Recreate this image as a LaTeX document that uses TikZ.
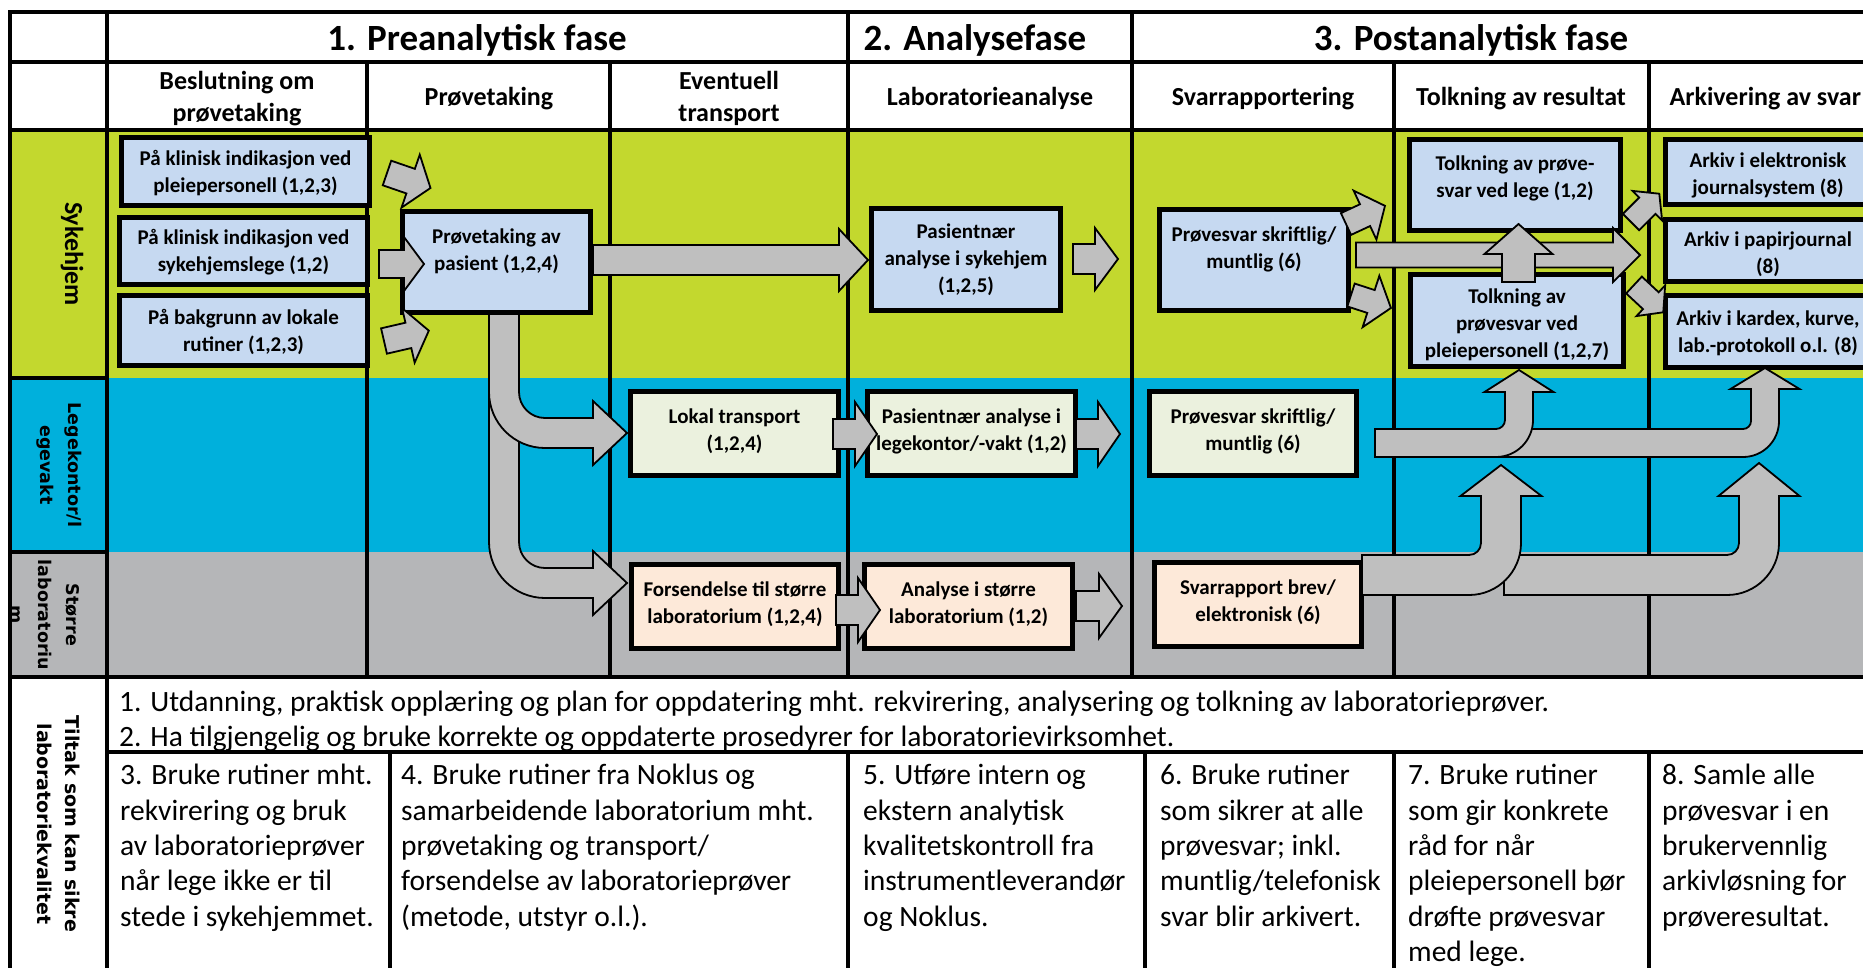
\documentclass[tikz,border=0pt]{standalone}
\usepackage{fontspec}
\setmainfont{Carlito}
\newfontfamily\verdfont{DejaVu Sans}

\definecolor{lanegreen}{RGB}{195,216,46}
\definecolor{lanecyan}{RGB}{0,176,220}
\definecolor{lanegray}{RGB}{181,182,184}
\definecolor{boxblue}{RGB}{198,217,241}
\definecolor{boxgreen}{RGB}{235,241,222}
\definecolor{boxpeach}{RGB}{253,233,217}
\definecolor{arrowgray}{RGB}{191,191,191}

\tikzset{
  grid line/.style={line width=3.5pt, line cap=rect},
  flowbox/.style={draw, line width=4.5pt, align=center, inner sep=1pt, text depth=-2pt,
    font=\fontsize{21}{27}\selectfont\bfseries},
  bluebox/.style={flowbox, fill=boxblue},
  greenbox/.style={flowbox, fill=boxgreen, text depth=7pt},
  peachbox/.style={flowbox, fill=boxpeach, text depth=7pt},
  blockarrow/.style={draw=black, line width=1.8pt, fill=arrowgray, line join=miter},
  phasehead/.style={font=\fontsize{37}{44}\selectfont\bfseries},
  colhead/.style={align=center, font=\fontsize{26}{31.5}\selectfont\bfseries},
  lanelabel/.style={rotate=-90, align=center,
    font=\verdfont\fontsize{17.5}{28}\selectfont\bfseries},
  tiltak/.style={anchor=north west, align=left, inner sep=0pt,
    font=\fontsize{29.5}{35.3}\selectfont},
}

% straight block arrow: tail, angle, length, half shaft, half head, head length
\newcommand{\barrow}[6]{%
  \draw[blockarrow, shift={#1}, rotate=#2]
    (0,-#4) -- ({#3-#6},-#4) -- ({#3-#6},-#5) -- (#3,0)
    -- ({#3-#6},#5) -- ({#3-#6},#4) -- (0,#4) -- cycle;}

% block arrow going down, then right
\newcommand{\bendright}[8]{%
  \pgfmathsetmacro\bxl{#1-#4}\pgfmathsetmacro\bxr{#1+#4}%
  \pgfmathsetmacro\byt{#3-#4}\pgfmathsetmacro\byb{#3+#4}%
  \pgfmathsetmacro\bro{#5+2*#4}%
  \draw[blockarrow] (\bxl,#2) -- (\bxl,{\byb-\bro})
    .. controls (\bxl,{\byb-0.448*\bro}) and ({\bxl+0.448*\bro},\byb) .. ({\bxl+\bro},\byb)
    -- (#6,\byb) -- (#6,{#3+#7}) -- (#8,#3) -- (#6,{#3-#7}) -- (#6,\byt)
    -- ({\bxr+#5},\byt) .. controls ({\bxr+0.448*#5},\byt) and (\bxr,{\byt-0.448*#5}) .. (\bxr,{\byt-#5})
    -- (\bxr,#2) -- cycle;}

% block arrow going right, then up
\newcommand{\bendup}[8]{%
  \pgfmathsetmacro\bxl{#4-#3}\pgfmathsetmacro\bxr{#4+#3}%
  \pgfmathsetmacro\byt{#2-#3}\pgfmathsetmacro\byb{#2+#3}%
  \pgfmathsetmacro\bro{#5+2*#3}%
  \draw[blockarrow] (#1,\byt) -- ({\bxl-#5},\byt)
    .. controls ({\bxl-0.448*#5},\byt) and (\bxl,{\byt-0.448*#5}) .. (\bxl,{\byt-#5})
    -- (\bxl,#6) -- ({#4-#7},#6) -- (#4,#8) -- ({#4+#7},#6) -- (\bxr,#6)
    -- (\bxr,{\byb-\bro}) .. controls (\bxr,{\byb-0.448*\bro}) and ({\bxr-0.448*\bro},\byb) .. ({\bxr-\bro},\byb)
    -- (#1,\byb) -- cycle;}

\begin{document}
\begin{tikzpicture}[x=1pt,y=-1pt]
\useasboundingbox (0,0) rectangle (1863,967);
\clip (0,0) rectangle (1863,967);

% lanes
\fill[lanegreen] (10,130) rectangle (1870,378);
\fill[lanecyan] (10,378) rectangle (1870,552);
\fill[lanegray] (10,552) rectangle (1870,677);

% table lines
\draw[grid line] (10,12) -- (1870,12);
\draw[grid line] (10,62) -- (1870,62);
\draw[grid line] (10,130) -- (1870,130);
\draw[grid line] (10,378) -- (107,378);
\draw[grid line] (10,552) -- (107,552);
\draw[grid line] (10,677) -- (1870,677);
\draw[grid line] (107,752) -- (1870,752);
\draw[grid line] (10,12) -- (10,975);
\draw[grid line] (107,12) -- (107,975);
\foreach \x in {848,1132} \draw[grid line] (\x,12) -- (\x,677);
\foreach \x in {367,610,1394,1649} \draw[grid line] (\x,62) -- (\x,677);
\foreach \x in {390,848,1145,1394,1649} \draw[grid line] (\x,752) -- (\x,975);

% headers
\node[phasehead] (ph1) at (477,40.5) {1. Preanalytisk fase};
\node[phasehead] (ph2) at (975,40.5) {2. Analysefase};
\node[phasehead] (ph3) at (1471,40.5) {3. Postanalytisk fase};
\node[colhead] (ch1) at (237,98.5) {Beslutning om\\prøvetaking};
\node[colhead] (ch2) at (489,98.5) {Prøvetaking};
\node[colhead] (ch3) at (729,98.5) {Eventuell\\transport};
\node[colhead] (ch4) at (990,98.5) {Laboratorieanalyse};
\node[colhead] (ch5) at (1263,98.5) {Svarrapportering};
\node[colhead] (ch6) at (1521,98.5) {Tolkning av resultat};
\node[colhead, anchor=west] (ch7) at (1666,98.5) {Arkivering av svar};

% lane labels
\node[rotate=-90, font=\fontsize{26}{31}\selectfont\bfseries] (lsyk) at (72,254) {Sykehjem};
\node[lanelabel] (lleg) at (59,465) {Legekontor/l\\egevakt};
\node[lanelabel] (lsto) at (45,615) {Større\\laboratoriu\\m};
\node[lanelabel, font=\verdfont\fontsize{19}{28}\selectfont\bfseries] (ltil) at (58.5,824)
  {Tiltak som kan sikre\\laboratoriekvalitet};

% from the sample down to transport
\bendright{504}{314}{583}{15}{26}{593}{32}{627}
\bendright{504}{314}{433}{15}{26}{593}{32}{627}

% boxes
\node[bluebox, minimum width=248pt, minimum height=68pt] (bes1) at (245.5,171.5) {På klinisk indikasjon ved\\pleiepersonell (1,2,3)};
\node[bluebox, minimum width=248pt, minimum height=67pt, text height=46.5pt, text depth=5pt] (bes2) at (243.5,251) {På klinisk indikasjon ved\\sykehjemslege (1,2)};
\node[bluebox, minimum width=248pt, minimum height=70pt, text height=46.5pt, text depth=5pt] (bes3) at (243.5,330.5) {På bakgrunn av lokale\\rutiner (1,2,3)};
\node[bluebox, minimum width=188pt, minimum height=101pt, text depth=25pt] (pt) at (496.5,262) {Prøvetaking av\\pasient (1,2,4)};
\node[bluebox, minimum width=189pt, minimum height=102pt, text depth=2pt] (pns) at (966,259.5) {Pasientnær\\analyse i sykehjem\\(1,2,5)};
\node[bluebox, minimum width=189pt, minimum height=101pt, text depth=25pt] (svs) at (1254,260) {Prøvesvar skriftlig/\\muntlig (6)};
\node[bluebox, minimum width=211pt, minimum height=91pt, text depth=16pt] (tol) at (1515,185) {Tolkning av prøve-\\svar ved lege (1,2)};
\node[bluebox, minimum width=213pt, minimum height=92pt, text height=78.5pt, text depth=5pt] (tolp) at (1517,320.5) {Tolkning av\\prøvesvar ved\\pleiepersonell (1,2,7)};
\node[bluebox, minimum width=205pt, minimum height=65pt, text height=49pt, text depth=5pt] (ark1) at (1768,172) {Arkiv i elektronisk\\journalsystem (8)};
\node[bluebox, minimum width=205pt, minimum height=62pt, text height=51.5pt, text depth=5pt] (ark2) at (1768,250.5) {Arkiv i papirjournal\\(8)};
\node[bluebox, minimum width=205pt, minimum height=72pt, text height=46.5pt, text depth=5pt] (ark3) at (1768,331.5) {Arkiv i kardex, kurve,\\lab.-protokoll o.l. (8)};
\node[greenbox, minimum width=208pt, minimum height=84pt] (lok) at (734.5,433.5) {Lokal transport\\(1,2,4)};
\node[greenbox, minimum width=208pt, minimum height=84pt] (pnl) at (971.5,433.5) {Pasientnær analyse i\\legekontor/-vakt (1,2)};
\node[greenbox, minimum width=207pt, minimum height=84pt] (svl) at (1253,433.5) {Prøvesvar skriftlig/\\muntlig (6)};
\node[peachbox, minimum width=207pt, minimum height=84pt] (fors) at (735,606.5) {Forsendelse til større\\laboratorium (1,2,4)};
\node[peachbox, minimum width=208pt, minimum height=84pt] (anl) at (968.5,606.5) {Analyse i større\\laboratorium (1,2)};
\node[peachbox, minimum width=207pt, minimum height=84pt] (svr) at (1258,604.5) {Svarrapport brev/\\elektronisk (6)};

% straight arrows
\barrow{(387,173)}{-19}{46}{13}{28}{21}
\barrow{(379,264)}{0}{45}{14}{27}{20}
\barrow{(384,341)}{13}{46}{13}{28}{21}
\barrow{(593,260)}{0}{275}{15}{31}{29}
\barrow{(1073,259)}{0}{45}{15}{31}{23}
\barrow{(1346,224)}{25}{43}{12}{27}{22}
\barrow{(1351,295)}{-18}{42}{12}{27}{21}
\barrow{(1356,255)}{0}{284}{12.5}{27}{27}
\barrow{(1518.5,282)}{90}{58}{16.5}{34}{30}
\barrow{(1631,222)}{45}{40}{11.5}{21}{17}
\barrow{(1634,285)}{-43}{40}{11.5}{21}{17}
\barrow{(833,434)}{0}{44}{15}{32}{22}
\barrow{(1076,434)}{0}{44}{15}{32}{22}
\barrow{(836,610)}{0}{44}{15}{32}{22}
\barrow{(1076,606)}{0}{46}{15}{32}{23}

% answers up to interpretation and archive
\bendup{1498}{443}{14}{1765}{8}{389}{34.5}{368}
\bendup{1375}{443}{14}{1519}{9}{392}{34.5}{370}
\bendup{1504}{575}{20}{1759}{12}{496}{40.5}{463}
\bendup{1362}{575}{20}{1501}{12}{496}{40.5}{465}

% measures
\node[tiltak] (tilt12) at (119,686.5) {\strut 1. Utdanning, praktisk opplæring og plan for oppdatering mht. rekvirering, analysering og tolkning av laboratorieprøver.\\2. Ha tilgjengelig og bruke korrekte og oppdaterte prosedyrer for laboratorievirksomhet.};
\node[tiltak] (tilt3) at (120,760) {\strut 3. Bruke rutiner mht.\\rekvirering og bruk\\av laboratorieprøver\\når lege ikke er til\\stede i sykehjemmet.};
\node[tiltak] (tilt4) at (401,760) {\strut 4. Bruke rutiner fra Noklus og\\samarbeidende laboratorium mht.\\prøvetaking og transport/\\forsendelse av laboratorieprøver\\(metode, utstyr o.l.).};
\node[tiltak] (tilt5) at (863,760) {\strut 5. Utføre intern og\\ekstern analytisk\\kvalitetskontroll fra\\instrumentleverandør\\og Noklus.};
\node[tiltak] (tilt6) at (1160,760) {\strut 6. Bruke rutiner\\som sikrer at alle\\prøvesvar; inkl.\\muntlig/telefonisk\\svar blir arkivert.};
\node[tiltak] (tilt7) at (1408,760) {\strut 7. Bruke rutiner\\som gir konkrete\\råd for når\\pleiepersonell bør\\drøfte prøvesvar\\med lege.};
\node[tiltak] (tilt8) at (1662,760) {\strut 8. Samle alle\\prøvesvar i en\\brukervennlig\\arkivløsning for\\prøveresultat.};
\end{tikzpicture}
\end{document}
